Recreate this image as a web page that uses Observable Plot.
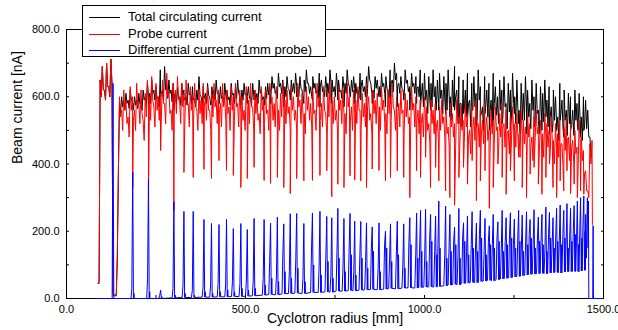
<!DOCTYPE html>
<html>
<head>
<meta charset="utf-8">
<script src="https://cdn.jsdelivr.net/npm/d3@7"></script>
<script src="https://cdn.jsdelivr.net/npm/@observablehq/plot@0.6"></script>
<style>
html, body { margin: 0; padding: 0; background: #fff; }
#wrap { position: relative; width: 618px; height: 330px; font-family: "Liberation Sans", Arial, Helvetica, sans-serif; }
#legend { position: absolute; left: 82px; top: 5px; width: 244px; height: 52px; border: 1px solid #000; background: #fff; box-sizing: border-box; }
.row { position: absolute; left: 0; height: 14px; width: 240px; }
.sw { position: absolute; left: 6px; top: 7px; width: 31px; height: 1px; }
.lab { position: absolute; left: 45px; top: 0; font-size: 13px; line-height: 14px; color: #000; white-space: nowrap; }
</style>
</head>
<body>
<div id="wrap"></div>
<script>
// ---------------- data ----------------
const seriesNames = ["Total circulating current", "Probe current", "Differential current (1mm probe)"];
const seriesColors = ["#000000", "#ff0000", "#0000ff"];

// beam current read in 6 mm bins along the radius (first bin at 88 mm):
// upper and lower reading of each bin
const gridStart = 88, gridStep = 6;
const redHi = [
  45, 650, 690, 620, 700, 630, 712, 15, 12, 140,
  600, 560, 620, 590, 540, 630, 600, 560, 640, 580,
  620, 530, 610, 650, 600, 660, 570, 640, 600, 610,
  650, 580, 670, 620, 560, 640, 620, 660, 590, 640,
  610, 650, 580, 630, 600, 640, 560, 620, 590, 640,
  600, 630, 560, 610, 640, 590, 620, 580, 640, 600,
  620, 570, 630, 600, 640, 580, 620, 600, 560, 630,
  590, 640, 570, 620, 600, 550, 630, 590, 620, 560,
  640, 600, 580, 630, 560, 610, 640, 590, 620, 570,
  630, 600, 560, 640, 590, 610, 550, 630, 600, 580,
  620, 560, 640, 600, 580, 630, 550, 610, 640, 590,
  600, 560, 630, 590, 620, 550, 640, 600, 570, 620,
  590, 630, 560, 610, 580, 640, 600, 550, 620, 590,
  610, 570, 630, 590, 550, 620, 600, 640, 560, 600,
  580, 620, 560, 610, 590, 540, 630, 580, 600, 560,
  590, 550, 600, 570, 520, 590, 560, 580, 530, 570,
  590, 540, 560, 510, 580, 550, 520, 590, 540, 570,
  530, 580, 550, 500, 570, 540, 590, 520, 560, 530,
  580, 540, 500, 560, 530, 570, 510, 550, 580, 520,
  560, 500, 540, 570, 520, 550, 490, 560, 530, 510,
  550, 520, 480, 540, 560, 510, 530, 490, 550, 520,
  500, 540, 470, 520, 490, 530, 460, 510, 540, 480,
  520, 470, 500, 450, 530, 480, 440, 380, 320, 460
];
const redLo = [
  45, 600, 620, 590, 630, 600, 640, 10, 10, 380,
  540, 500, 560, 520, 480, 560, 530, 500, 570, 520,
  550, 470, 540, 580, 530, 590, 510, 560, 530, 540,
  580, 520, 600, 550, 500, 570, 550, 590, 520, 570,
  540, 580, 510, 560, 530, 570, 500, 550, 520, 570,
  530, 560, 500, 540, 570, 520, 550, 510, 570, 530,
  550, 500, 560, 530, 570, 510, 550, 530, 500, 560,
  520, 570, 500, 550, 530, 490, 560, 520, 550, 500,
  570, 530, 510, 560, 500, 540, 570, 520, 550, 500,
  560, 530, 500, 570, 520, 540, 490, 560, 530, 510,
  550, 500, 570, 530, 510, 560, 490, 540, 570, 520,
  530, 500, 560, 520, 550, 490, 570, 530, 500, 550,
  520, 560, 500, 540, 510, 570, 530, 490, 550, 520,
  540, 500, 560, 520, 490, 550, 530, 570, 500, 530,
  510, 550, 490, 540, 520, 480, 560, 510, 530, 490,
  520, 480, 530, 500, 460, 520, 490, 510, 470, 500,
  520, 470, 490, 450, 510, 480, 450, 520, 470, 500,
  460, 510, 480, 430, 500, 470, 520, 450, 490, 460,
  510, 470, 430, 490, 460, 500, 440, 480, 510, 450,
  490, 430, 470, 500, 450, 480, 420, 490, 460, 440,
  480, 450, 410, 470, 490, 440, 460, 420, 480, 450,
  430, 470, 400, 450, 420, 460, 390, 440, 470, 410,
  450, 400, 430, 380, 460, 410, 370, 320, 300, 400
];
const blackHi = [
  45, 650, 690, 620, 700, 630, 712, 10, 8, 120,
  580, 600, 585, 610, 590, 620, 585, 600, 590, 610,
  585, 620, 600, 640, 610, 650, 620, 630, 600, 680,
  620, 690, 630, 650, 620, 640, 610, 630, 600, 640,
  620, 600, 640, 610, 630, 590, 620, 660, 600, 630,
  610, 640, 600, 630, 620, 650, 610, 630, 600, 640,
  620, 600, 640, 610, 630, 650, 600, 620, 640, 610,
  630, 600, 640, 620, 610, 650, 620, 600, 630, 640,
  630, 660, 640, 620, 670, 640, 650, 630, 660, 620,
  650, 640, 670, 630, 660, 620, 650, 680, 640, 630,
  660, 640, 620, 670, 650, 630, 660, 640, 680, 650,
  630, 670, 650, 620, 660, 640, 680, 630, 650, 660,
  640, 620, 670, 650, 630, 660, 690, 640, 620, 660,
  650, 630, 670, 640, 660, 620, 680, 650, 700, 670,
  640, 660, 620, 680, 650, 630, 670, 640, 660, 630,
  680, 640, 670, 620, 660, 640, 680, 630, 650, 670,
  620, 660, 640, 680, 600, 650, 690, 620, 660, 580,
  650, 620, 670, 590, 640, 660, 610, 680, 630, 570,
  660, 620, 640, 590, 670, 630, 600, 650, 620, 660,
  580, 640, 620, 670, 600, 650, 560, 640, 610, 660,
  620, 580, 650, 600, 640, 560, 630, 610, 650, 590,
  630, 570, 620, 600, 540, 640, 590, 620, 560, 610,
  600, 560, 620, 580, 610, 540, 600, 590, 560, 480
];
const blackLo = [
  45, 600, 620, 590, 630, 600, 640, 8, 8, 380,
  550, 570, 560, 580, 565, 590, 560, 575, 565, 580,
  560, 590, 575, 600, 580, 610, 590, 595, 570, 610,
  590, 620, 595, 610, 585, 605, 580, 595, 575, 605,
  590, 575, 605, 580, 595, 570, 590, 605, 575, 595,
  580, 605, 575, 595, 590, 610, 580, 595, 575, 605,
  590, 575, 605, 580, 595, 610, 575, 590, 605, 580,
  595, 575, 605, 590, 580, 610, 590, 575, 595, 605,
  600, 625, 610, 595, 630, 610, 615, 600, 625, 595,
  615, 610, 630, 600, 625, 595, 615, 640, 610, 600,
  625, 610, 595, 630, 615, 600, 625, 610, 640, 615,
  600, 630, 615, 595, 625, 610, 640, 600, 615, 625,
  610, 595, 630, 615, 600, 625, 650, 610, 595, 625,
  615, 600, 630, 610, 625, 595, 640, 615, 650, 630,
  610, 625, 595, 640, 615, 600, 630, 610, 625, 600,
  600, 570, 595, 550, 585, 570, 600, 560, 580, 595,
  550, 585, 560, 600, 530, 570, 600, 540, 580, 510,
  560, 540, 580, 510, 560, 570, 530, 590, 550, 500,
  570, 540, 555, 510, 580, 545, 520, 560, 540, 570,
  505, 555, 540, 580, 520, 560, 490, 550, 530, 570,
  540, 505, 560, 520, 550, 490, 540, 525, 560, 510,
  540, 495, 530, 515, 470, 550, 505, 530, 485, 520,
  515, 485, 530, 500, 520, 470, 510, 505, 480, 430
];

// radius of each turn (mm) seen by the probe
const turnR = [
  130, 185, 229, 263, 300, 328, 354, 384, 405, 426, 447, 466, 487, 505, 524,
  552, 570, 589, 607, 625, 643, 663, 687, 708, 727, 741, 758, 775, 792, 805,
  822, 838, 854, 873, 891, 905, 924, 942, 959, 978, 989, 1003, 1017, 1031, 1040, 1059,
  1071, 1084, 1096, 1109, 1120, 1133, 1145, 1156, 1169, 1181, 1192, 1205, 1217, 1228, 1240,
  1251, 1263, 1273, 1285, 1295, 1306, 1318, 1328, 1339, 1349, 1359, 1369, 1379, 1389, 1398,
  1408, 1418, 1427, 1436, 1445
];
const bluePeak = [
  640, 375, 354, 25, 288, 259, 259, 235, 223, 220, 235, 208, 223, 205, 238,
  235, 224, 242, 222, 252, 253, 223, 254, 259, 244, 240, 268, 238, 253, 230,
  229, 225, 213, 225, 200, 222, 230, 222, 240, 254, 262, 265, 250, 245, 290, 275,
  250, 212, 268, 225, 245, 258, 224, 262, 238, 216, 250, 228, 262, 240, 255,
  236, 262, 248, 258, 235, 264, 242, 250, 272, 256, 240, 268, 278, 262, 282,
  268, 276, 290, 300, 305
];
// small bump just before each peak, and echo just after it
const blueShoulder = [
  0, 30, 60, 10, 30, 40, 25, 35, 40, 45, 40, 50, 45, 55, 50,
  60, 110, 70, 140, 80, 120, 60, 150, 90, 130, 70, 140, 100, 150, 80,
  130, 110, 150, 90, 160, 120, 140, 100, 170, 130, 150, 120, 180, 140, 160, 130,
  150, 170, 130, 180, 140, 160, 150, 190, 140, 170, 160, 180, 150, 170, 190,
  160, 180, 150, 170, 190, 160, 180, 170, 150, 190, 160, 180, 170, 190, 160,
  180, 200, 170, 190, 210
];
const blueEcho = [
  0, 15, 20, 5, 10, 15, 10, 20, 15, 20, 25, 20, 30, 25, 30,
  40, 60, 50, 80, 60, 90, 50, 100, 70, 110, 60, 120, 80, 130, 70,
  120, 90, 140, 80, 150, 110, 130, 90, 160, 120, 140, 110, 170, 130, 150, 120,
  140, 160, 120, 170, 130, 150, 140, 180, 130, 160, 150, 170, 140, 160, 180,
  150, 170, 140, 160, 180, 150, 170, 160, 140, 180, 150, 170, 160, 180, 150,
  170, 190, 160, 180, 200
];
const blueFloor = [
  0, 0, 0, 0, 2, 3, 3, 4, 4, 5, 5, 6, 6, 7, 8,
  10, 12, 11, 14, 15, 16, 15, 18, 18, 20, 19, 22, 22, 24, 23,
  25, 26, 27, 26, 28, 30, 29, 31, 32, 31, 33, 34, 35, 34, 36, 38,
  40, 42, 41, 45, 46, 48, 47, 51, 52, 54, 53, 56, 58, 60, 62,
  64, 66, 68, 70, 72, 73, 74, 75, 74, 76, 77, 78, 76, 79, 80,
  80, 81, 80, 82, 84
];
const redDip = [
  10, 330, 303, 440, 262, 375, 360, 384, 357, 410, 381, 366, 330, 357, 390,
  351, 342, 360, 330, 312, 357, 350, 351, 366, 380, 303, 340, 330, 365, 352,
  350, 330, 385, 381, 350, 360, 380, 360, 300, 380, 360, 420, 330, 390, 350, 320,
  300, 277, 360, 390, 340, 410, 291, 350, 380, 268, 330, 400, 360, 310, 380,
  350, 420, 330, 300, 370, 390, 340, 310, 360, 400, 330, 300, 350, 320, 380,
  312, 340, 300, 320, 310
];
const blackDip = [
  10, 580, 570, 600, 560, 600, 590, 600, 580, 610, 590, 600, 580, 600, 590,
  590, 580, 600, 570, 590, 600, 580, 590, 570, 600, 580, 590, 570, 600, 580,
  590, 570, 580, 600, 570, 580, 570, 590, 560, 580, 570, 590, 560, 570, 560, 550,
  540, 560, 520, 550, 530, 560, 510, 540, 550, 500, 530, 560, 520, 540, 500,
  550, 520, 530, 490, 540, 510, 530, 500, 540, 490, 520, 500, 530, 480, 510,
  500, 490, 520, 480, 500
];

// start and end of each trace
const blueHeadR = [87], blueHead = [0];
const blueTailR = [1450, 1452, 1455, 1457, 1458, 1459, 1470, 1471, 1472, 1500];
const blueTail  = [250, 120, 300, 150, 290, 0, 0, 217, 0, 0];
const redTailR = [1468, 1469], redTail = [470, 220];
const blackTailR = [1466], blackTail = [420];

// axes
const yTicks = [0, 100, 200, 300, 400, 500, 600, 700, 800];
const yLabels = [0, 200, 400, 600, 800];
const xTicks = [0, 250, 500, 750, 1000, 1250, 1500];
const xLabels = [0, 500, 1000, 1500];
const xTitle = "Cyclotron radius [mm]";
const yTitle = "Beam current [nA]";

// ---------------- build tables ----------------
const byR = (a, b) => a.r - b.r;
function binned(hi, lo) {
  const out = [];
  hi.forEach((v, i) => {
    const r = gridStart + i * gridStep;
    out.push({r, v}, {r: r + gridStep / 2, v: lo[i]});
  });
  return out;
}
const redData = [
  ...binned(redHi, redLo),
  ...turnR.map((r, i) => ({r, v: redDip[i]})),
  ...redTailR.map((r, i) => ({r, v: redTail[i]}))
].sort(byR);
const blackData = [
  ...binned(blackHi, blackLo),
  ...turnR.map((r, i) => ({r, v: blackDip[i]})),
  ...blackTailR.map((r, i) => ({r, v: blackTail[i]}))
].sort(byR);
const bluePts = blueHeadR.map((r, i) => ({r, v: blueHead[i]}));
turnR.forEach((r, i) => {
  bluePts.push(
    {r: r - 5, v: blueFloor[i]}, {r: r - 2.5, v: blueShoulder[i]}, {r, v: bluePeak[i]},
    {r: r + 2, v: blueFloor[i]}, {r: r + 3.5, v: blueEcho[i]}, {r: r + 4.5, v: blueFloor[i]}
  );
});
blueTailR.forEach((r, i) => bluePts.push({r, v: blueTail[i]}));
const blueData = bluePts.sort(byR);

// ---------------- chart ----------------
const chart = Plot.plot({
  width: 618,
  height: 330,
  marginLeft: 66,
  marginRight: 15,
  marginTop: 29,
  marginBottom: 32,
  style: {fontFamily: "'Liberation Sans', Arial, Helvetica, sans-serif", fontSize: "11px", color: "#000", background: "#fff"},
  x: {domain: [0, 1500], label: null},
  y: {domain: [0, 800], label: null},
  marks: [
    Plot.frame({stroke: "#000", strokeWidth: 1}),
    Plot.axisY(yTicks, {anchor: "left", tickSize: -3, tickFormat: () => "", label: null}),
    Plot.axisY(yTicks, {anchor: "right", tickSize: -3, tickFormat: () => "", label: null}),
    Plot.axisY(yLabels, {anchor: "left", tickSize: 0, tickPadding: 7, tickFormat: d => d.toFixed(1), label: null}),
    Plot.axisX(xTicks, {anchor: "bottom", tickSize: -3, tickFormat: () => "", label: null}),
    Plot.axisX(xLabels, {anchor: "bottom", tickSize: 0, tickPadding: 7, tickFormat: d => d.toFixed(1), label: null}),
    Plot.lineY(blackData, {x: "r", y: "v", stroke: seriesColors[0], strokeWidth: 1}),
    Plot.lineY(redData, {x: "r", y: "v", stroke: seriesColors[1], strokeWidth: 1}),
    Plot.lineY(blueData, {x: "r", y: "v", stroke: seriesColors[2], strokeWidth: 1}),
    Plot.text([xTitle], {text: d => d, frameAnchor: "bottom", dy: 24, fontSize: 14}),
    Plot.text([yTitle], {text: d => d, frameAnchor: "left", rotate: -90, dx: -49, fontSize: 14})
  ]
});

const wrap = document.getElementById("wrap");
wrap.appendChild(chart);

// legend
const legend = document.createElement("div");
legend.id = "legend";
seriesNames.forEach((name, i) => {
  const row = document.createElement("div");
  row.className = "row";
  row.style.top = (4 + i * 16.5) + "px";
  const sw = document.createElement("div");
  sw.className = "sw";
  sw.style.background = seriesColors[i];
  const lab = document.createElement("div");
  lab.className = "lab";
  lab.textContent = name;
  row.appendChild(sw);
  row.appendChild(lab);
  legend.appendChild(row);
});
wrap.appendChild(legend);
</script>
</body>
</html>
